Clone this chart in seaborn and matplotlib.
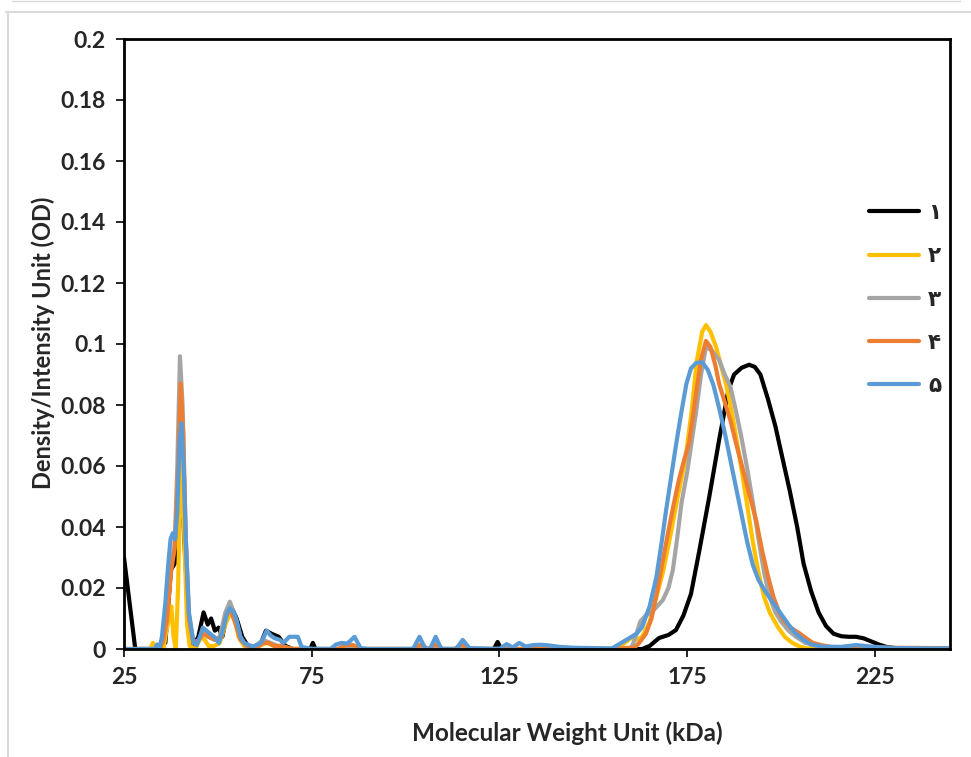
import pandas as pd
import seaborn as sns
import matplotlib.pyplot as plt
from matplotlib.lines import Line2D

# Data
mw_1 = [25, 26, 27, 28, 34, 36, 37.5, 38.5, 39.5, 40.3, 41.3, 42.3, 43.5, 44.8, 46.2, 47.3, 48.2, 49.2,
        50.2, 51.2, 52.5, 53.5, 55, 56.5, 58, 60, 61.5, 62.8, 64.3, 66.2, 68, 70, 74.6, 75.3, 76, 123.5,
        124.5, 125.5, 163, 165, 167.5, 170, 172, 174, 176, 178.2, 180.9, 183.5, 186, 187.5, 189.5, 191.5,
        193, 194.5, 196.5, 198.5, 200.3, 202.3, 204.3, 206, 208, 210, 212, 214, 216, 218, 220, 222, 224,
        226, 228, 231, 235, 245]
od_1 = [0.030, 0.020, 0.010, 0.000, 0.000, 0.002, 0.026, 0.028, 0.050, 0.055, 0.030, 0.008, 0.001, 0.004,
        0.012, 0.008, 0.010, 0.006, 0.007, 0.004, 0.012, 0.014, 0.010, 0.004, 0.001, 0.000, 0.002, 0.006,
        0.005, 0.004, 0.001, 0.000, 0.000, 0.002, 0.000, 0.000, 0.0023, 0.000, 0.000, 0.001, 0.0036, 0.0046,
        0.0062, 0.011, 0.018, 0.032, 0.050, 0.0685, 0.085, 0.090, 0.0922, 0.0932, 0.0925, 0.090, 0.082,
        0.073, 0.063, 0.052, 0.040, 0.028, 0.019, 0.012, 0.0075, 0.005, 0.0042, 0.004, 0.004, 0.0035,
        0.0025, 0.0015, 0.0007, 0.0002, 0.0003, 0.0003]

mw_2 = [25, 32, 32.7, 33.2, 35.5, 36.3, 37, 37.6, 38.2, 38.8, 39.4, 40, 40.5, 41.1, 41.8, 42.5, 44, 45.5,
        46.5, 47.5, 49, 50.5, 52, 53.3, 54.5, 55.5, 57, 59, 63, 65, 70, 155, 157, 160, 161.5, 163, 165, 167,
        168.5, 170.5, 172.5, 174.5, 176.2, 177.5, 179, 180, 181.2, 182.7, 184, 185.5, 187, 188.5, 190,
        191.5, 192.5, 194, 195.5, 197, 199, 201, 203, 205, 207, 245]
od_2 = [0, 0, 0.002, 0, 0, 0.006, 0.010, 0.014, 0.004, 0.000, 0.020, 0.055, 0.062, 0.035, 0.008, 0.001,
        0.000, 0.004, 0.003, 0.001, 0.001, 0.002, 0.008, 0.012, 0.010, 0.004, 0.001, 0.000, 0.002, 0.001, 0,
        0, 0.0007, 0.0036, 0.003, 0.004, 0.009, 0.018, 0.025, 0.037, 0.050, 0.062, 0.078, 0.094, 0.104,
        0.1062, 0.104, 0.099, 0.093, 0.086, 0.077, 0.066, 0.055, 0.043, 0.035, 0.025, 0.017, 0.012, 0.0075,
        0.004, 0.002, 0.0008, 0.0002, 0]

mw_3 = [25, 34, 35, 36.5, 37.5, 38.5, 39.2, 39.9, 40.6, 41.3, 42.2, 43.5, 45, 46, 47.5, 49, 50.5, 52, 53.2,
        54.5, 56, 57.5, 60, 62, 64, 66, 70, 160, 161, 162.5, 164, 165.5, 167, 168.5, 170, 171.2, 172.3,
        173.5, 175, 176.2, 177.4, 178.7, 180, 181.5, 183.5, 185, 186.5, 188, 189.5, 191, 192.5, 194, 195.5,
        197, 198.5, 200, 202, 204, 206.5, 209, 212, 245]
od_3 = [0, 0, 0.002, 0.012, 0.028, 0.034, 0.060, 0.096, 0.080, 0.040, 0.012, 0.002, 0.003, 0.006, 0.004,
        0.003, 0.004, 0.012, 0.0155, 0.011, 0.004, 0.001, 0.001, 0.003, 0.002, 0.001, 0, 0, 0.003, 0.009,
        0.011, 0.012, 0.014, 0.016, 0.020, 0.026, 0.036, 0.048, 0.058, 0.068, 0.078, 0.090, 0.099, 0.098,
        0.0948, 0.090, 0.086, 0.078, 0.069, 0.059, 0.048, 0.036, 0.025, 0.017, 0.012, 0.009, 0.006, 0.004,
        0.002, 0.0012, 0.0005, 0.0002]

mw_4 = [25, 34.5, 35.5, 36.5, 37.5, 38.5, 39.3, 40.1, 40.8, 41.5, 42.3, 43.5, 45, 46, 47.5, 49.5, 51, 52.2,
        53.2, 54.5, 56, 58, 60, 62, 63.5, 65, 67, 70, 82, 84, 86, 88, 102, 104, 106, 108, 110, 113, 115,
        117, 155, 161, 162.2, 164, 165.5, 167, 168.5, 170.2, 171.5, 172.9, 174.2, 175.5, 176.5, 177.4,
        178.7, 180, 181.2, 182.5, 183.5, 185, 186.5, 188, 189.6, 191.5, 193.4, 195, 196.5, 198, 199.5, 201,
        202.5, 204.5, 206.6, 208.5, 211, 214, 245]
od_4 = [0, 0, 0.003, 0.010, 0.025, 0.033, 0.055, 0.087, 0.070, 0.035, 0.010, 0.002, 0.003, 0.005, 0.004,
        0.003, 0.004, 0.011, 0.013, 0.009, 0.003, 0.001, 0.000, 0.002, 0.002, 0.001, 0.001, 0, 0, 0.0013,
        0.0013, 0, 0, 0.0015, 0, 0.0015, 0, 0, 0.0015, 0, 0, 0.0005, 0.002, 0.005, 0.010, 0.019, 0.029,
        0.040, 0.048, 0.056, 0.062, 0.0675, 0.076, 0.084, 0.095, 0.101, 0.099, 0.093, 0.087, 0.081, 0.075,
        0.0675, 0.060, 0.051, 0.042, 0.032, 0.024, 0.017, 0.012, 0.009, 0.007, 0.0055, 0.0036, 0.002,
        0.0012, 0.0005, 0.0003]

mw_5 = [25, 33.2, 33.8, 34.4, 35.1, 36, 36.8, 37.4, 38, 38.6, 39.2, 39.8, 40.3, 40.9, 41.5, 42.3, 43.5,
        44.4, 45.2, 46, 47, 47.9, 49, 50.3, 51.5, 52.5, 53.2, 54.2, 55, 56, 57, 59.3, 61.5, 63, 64, 65,
        66.5, 67.5, 69, 70.2, 71.3, 72.3, 75, 80, 81.5, 83, 84.5, 86.4, 88, 90, 102, 103.7, 105.3, 106.5,
        108, 109.5, 113.5, 115.2, 117, 125, 126.9, 128.5, 130.3, 132, 134, 136, 138, 141, 145, 155, 159.6,
        161.5, 163, 165, 166.8, 168.2, 169.4, 170.8, 172.1, 173.5, 174.8, 176, 177.4, 179, 180.5, 182,
        183.5, 185, 186.5, 188, 189.5, 191, 192.5, 194, 196, 198, 200, 202, 204, 206, 208, 211, 216, 220,
        224, 230, 245]
od_5 = [0, 0, 0.0015, 0, 0.004, 0.015, 0.028, 0.036, 0.038, 0.036, 0.045, 0.068, 0.074, 0.060, 0.035,
        0.012, 0.002, 0.0013, 0.004, 0.007, 0.006, 0.005, 0.004, 0.002, 0.007, 0.012, 0.0134, 0.012, 0.0095,
        0.004, 0.002, 0.0007, 0.002, 0.006, 0.0045, 0.0036, 0.003, 0.002, 0.004, 0.004, 0.004, 0.0007,
        0.000, 0.000, 0.0015, 0.002, 0.0018, 0.004, 0.0003, 0, 0, 0.004, 0, 0, 0.004, 0, 0, 0.003, 0.0003,
        0, 0.0016, 0.0005, 0.002, 0.0008, 0.0013, 0.0014, 0.0012, 0.0007, 0.0004, 0.0002, 0.0036, 0.005,
        0.0072, 0.014, 0.0236, 0.035, 0.0456, 0.057, 0.0675, 0.078, 0.087, 0.092, 0.0938, 0.094, 0.0915,
        0.0865, 0.079, 0.071, 0.062, 0.053, 0.044, 0.035, 0.0275, 0.0226, 0.0185, 0.015, 0.0115, 0.008,
        0.005, 0.003, 0.0015, 0.0008, 0.0007, 0.0013, 0.0008, 0.0003, 0.0002]

samples = ['۱', '۲', '۳', '۴', '۵']
colors = ['#000000', '#FFC000', '#A5A5A5', '#ED7D31', '#5B9BD5']
x_ticks = [25, 75, 125, 175, 225]
y_ticks = [0, 0.02, 0.04, 0.06, 0.08, 0.1, 0.12, 0.14, 0.16, 0.18, 0.2]
y_tick_labels = ['0', '0.02', '0.04', '0.06', '0.08', '0.1', '0.12', '0.14', '0.16', '0.18', '0.2']

frames = []
for name, xs, ys in zip(samples, [mw_1, mw_2, mw_3, mw_4, mw_5], [od_1, od_2, od_3, od_4, od_5]):
    frames.append(pd.DataFrame({'mw': xs, 'od': ys, 'sample': name}))
df = pd.concat(frames, ignore_index=True)

sns.set_style('white')
plt.rcParams['font.family'] = ['Lato', 'DejaVu Sans']

fig = plt.figure(figsize=(9.71, 7.57), dpi=100)
ax = fig.add_axes([124 / 971, 1 - 649 / 757, 826 / 971, 610 / 757])

for name, col in zip(samples, colors):
    sub = df[df['sample'] == name]
    sns.lineplot(data=sub, x='mw', y='od', color=col, linewidth=3.0, estimator=None, sort=False,
                 ax=ax, legend=False, solid_capstyle='round', solid_joinstyle='round')

ax.set_xlim(25, 245)
ax.set_ylim(0, 0.2)
ax.set_xticks(x_ticks)
ax.set_xticklabels([str(t) for t in x_ticks])
ax.set_yticks(y_ticks)
ax.set_yticklabels(y_tick_labels)
ax.tick_params(axis='both', direction='out', length=6, width=1.2, color='black', pad=7,
               labelsize=16.5, bottom=True, left=True)
for lab in ax.get_xticklabels() + ax.get_yticklabels():
    lab.set_fontweight('bold')
for s in ax.spines.values():
    s.set_color('black')
    s.set_linewidth(2)

ax.set_xlabel('Molecular Weight Unit (kDa)', fontsize=17.5, fontweight='bold')
ax.set_ylabel('Density/Intensity Unit (OD)', fontsize=17, fontweight='bold')
ax.xaxis.set_label_coords((567 - 124) / 826, (649 - 733) / 610)
ax.xaxis.label.set_va('center')
ax.yaxis.set_label_coords((43 - 124) / 826, (649 - 343) / 610)
ax.yaxis.label.set_va('center')

# legend placed by hand-picked anchor, entries in drawing order
handles = [Line2D([0], [0], color=c, linewidth=3.0) for c in colors]
leg = fig.legend(handles, samples, loc='upper left', bbox_to_anchor=(869 / 971, 1 - 203 / 757),
                 frameon=False, handlelength=2.3, handletextpad=0.45, labelspacing=1.08,
                 prop={'family': 'DejaVu Sans', 'weight': 'bold', 'size': 15.5}, borderaxespad=0,
                 borderpad=0)
leg.set_zorder(10)

# light grey chart-area frame
fig.add_artist(Line2D([12 / 971, 960 / 971], [1 - 0.8 / 757, 1 - 0.8 / 757], color='#D9D9D9', lw=1))
fig.add_artist(Line2D([6 / 971, 1], [1 - 12 / 757, 1 - 12 / 757], color='#D9D9D9', lw=1.5))
fig.add_artist(Line2D([8 / 971, 8 / 971], [0, 1 - 12 / 757], color='#D9D9D9', lw=1.5))

fig.savefig('out.png', dpi=100)
